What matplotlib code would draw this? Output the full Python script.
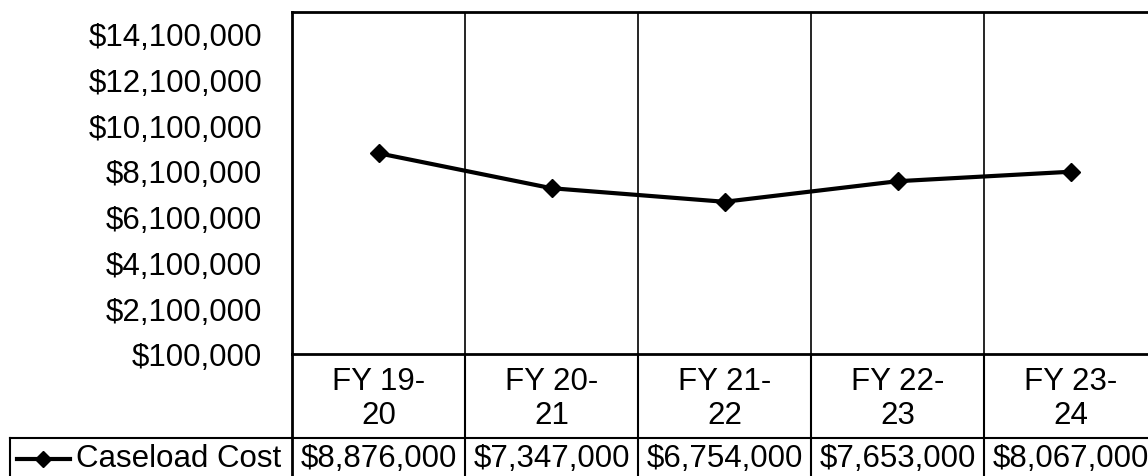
import numpy as np
import matplotlib.pyplot as plt
from matplotlib.transforms import blended_transform_factory

plt.rcParams['font.family'] = ['Liberation Sans', 'DejaVu Sans']

# caseload cost by fiscal year
years = ['FY 19-\n20', 'FY 20-\n21', 'FY 21-\n22', 'FY 22-\n23', 'FY 23-\n24']
cost = [8876000, 7347000, 6754000, 7653000, 8067000]
series_name = 'Caseload Cost'
yticks = np.arange(100000, 14100001, 2000000)
fs = 22.5

W, H = 1148, 477
fig = plt.figure(figsize=(W / 100, H / 100), dpi=100)

# plot box in pixels: left 292, right 1157 (runs past the edge), top 13, bottom 355
left, right, top, bottom = 292, 1157, 13, 355
ax = fig.add_axes([left / W, 1 - bottom / H, (right - left) / W, (bottom - top) / H])

n = len(years)
x = np.arange(n) + 0.5
ax.plot(x, cost, color='black', lw=3, marker='D', ms=9, solid_capstyle='round')
ax.set_xlim(0, n)
ax.set_ylim(100000, 15050000)
ax.set_yticks(yticks)
ax.set_yticklabels(['${:,.0f}'.format(v) for v in yticks], fontsize=fs)
ax.tick_params(axis='y', length=0, pad=21.5)
ax.set_xticks([])
for i in range(1, n):
    ax.axvline(i, color='black', lw=1.2)
for s in ['left', 'top', 'bottom']:
    ax.spines[s].set_linewidth(2)
ax.spines['right'].set_visible(False)

# data table under the plot
tr = blended_transform_factory(ax.transData, ax.transAxes)
ph = bottom - top
row_y = 439
tab_bot = -(H + 5 - bottom) / ph
for i in range(n + 1):
    ax.plot([i, i], [0, tab_bot], transform=tr, color='black', lw=2 if i == 0 else 1.5,
            clip_on=False)
    if i < n:
        ax.text(i + 0.5, -(399 - bottom) / ph, years[i], transform=tr, ha='center', va='center',
                fontsize=fs, linespacing=1.2)
        ax.text(i + 0.5, -(459 - bottom) / ph, '${:,.0f}'.format(cost[i]), transform=tr,
                ha='center', va='center', fontsize=fs)

# legend cell on the left of the table row
fig.add_artist(plt.Line2D([10 / W, right / W], [1 - row_y / H, 1 - row_y / H], color='black', lw=1.5))
fig.add_artist(plt.Line2D([10 / W, 10 / W], [1 - row_y / H, 0], color='black', lw=1.5))
ym = 1 - 460 / H
fig.add_artist(plt.Line2D([17 / W, 70 / W], [ym, ym], color='black', lw=3))
fig.add_artist(plt.Line2D([43 / W], [ym], color='black', marker='D', ms=8))
fig.text(76 / W, 1 - 459 / H, series_name, ha='left', va='center', fontsize=fs)

fig.savefig('out.png', dpi=100)
